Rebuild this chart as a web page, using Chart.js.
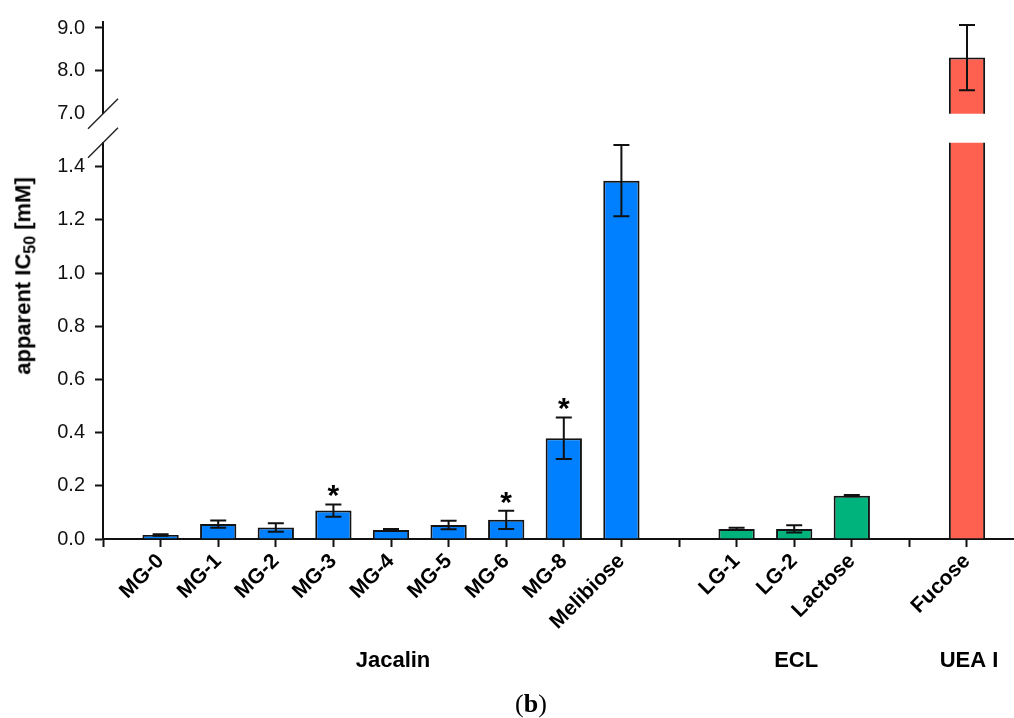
<!DOCTYPE html>
<html><head><meta charset="utf-8">
<script src="https://cdn.jsdelivr.net/npm/chart.js@4.4.0/dist/chart.umd.min.js"></script>
<style>
html,body{margin:0;padding:0;background:#fff;overflow:hidden;width:1014px;height:718px;}
#wrap{position:relative;width:1014px;height:718px;overflow:hidden;background:#fff;}
canvas{position:absolute;left:0;top:0;}
#ytitle{position:absolute;left:25px;top:276px;transform:translate(-50%,-50%) rotate(-90deg);font:bold 22px "Liberation Sans",Arial,sans-serif;white-space:nowrap;color:#000;}
#ytitle sub{font-size:16px;}
#cap{position:absolute;left:531px;top:704px;transform:translate(-50%,-50%);font:26px "Liberation Serif","DejaVu Serif",serif;color:#000;white-space:nowrap;}
</style></head>
<body>
<div id="wrap">
<canvas id="low" width="1065" height="718"></canvas>
<canvas id="high" width="1065" height="718"></canvas>
<div id="ytitle">apparent IC<sub>50</sub> [mM]</div>
<div id="cap">(<b>b</b>)</div>
</div>
<script>
const categories = ['', 'MG-0','MG-1','MG-2','MG-3','MG-4','MG-5','MG-6','MG-8','Melibiose','', 'LG-1','LG-2','Lactose','', 'Fucose',''];
const jacalinValues = [null,0.015,0.056,0.043,0.107,0.034,0.053,0.072,0.379,1.347,null,null,null,null,null,null,null];
const jacalinErrors = [null,0.003,0.014,0.016,0.023,0.004,0.016,0.034,0.078,0.134,null,null,null,null,null,null,null];
const eclValues = [null,null,null,null,null,null,null,null,null,null,null,0.038,0.038,0.163,null,null,null];
const eclErrors = [null,null,null,null,null,null,null,null,null,null,null,0.004,0.014,0.002,null,null,null];
const ueaValues = [null,null,null,null,null,null,null,null,null,null,null,null,null,null,null,8.31,null];
const ueaErrors = [null,null,null,null,null,null,null,null,null,null,null,null,null,null,null,0.76,null];
const significant = [false,false,false,false,true,false,false,true,true,false,false,false,false,false,false,false,false];
const groupNames = ['Jacalin','ECL','UEA I'];
const groupCenters = ['MG-4','LG-2','Fucose'];
const lowTicks = [0,0.2,0.4,0.6,0.8,1.0,1.2,1.4];
const highTicks = [7,8,9];

const FONT = '"Liberation Sans", Arial, sans-serif';
const BLUE = '#0080ff', GREEN = '#00b37c', RED = '#ff6150', EDGE = '#141414';

function makeDatasets() {
  const common = {borderColor: EDGE, borderWidth: 2, borderSkipped: 'start', grouped: false,
    categoryPercentage: 0.63, barPercentage: 1.0, clip: 0};
  return [
    Object.assign({label: 'Jacalin', data: jacalinValues, errors: jacalinErrors, backgroundColor: BLUE}, common),
    Object.assign({label: 'ECL', data: eclValues, errors: eclErrors, backgroundColor: GREEN}, common),
    Object.assign({label: 'UEA I', data: ueaValues, errors: ueaErrors, backgroundColor: RED}, common)
  ];
}

const errorBarPlugin = {
  id: 'errorBars',
  afterDatasetsDraw(chart) {
    const ctx = chart.ctx, a = chart.chartArea, y = chart.scales.y;
    ctx.save();
    ctx.beginPath(); ctx.rect(a.left, a.top - 1, a.right - a.left, a.bottom - a.top + 1); ctx.clip();
    ctx.strokeStyle = '#111'; ctx.lineWidth = 2;
    chart.data.datasets.forEach((ds, di) => {
      const meta = chart.getDatasetMeta(di);
      ds.data.forEach((v, i) => {
        const e = ds.errors[i];
        if (v == null || e == null) return;
        const x = meta.data[i].x;
        const yt = y.getPixelForValue(v + e), yb = y.getPixelForValue(v - e);
        ctx.beginPath();
        ctx.moveTo(x, yt); ctx.lineTo(x, yb);
        ctx.moveTo(x - 8, yt); ctx.lineTo(x + 8, yt);
        ctx.moveTo(x - 8, yb); ctx.lineTo(x + 8, yb);
        ctx.stroke();
      });
    });
    ctx.restore();
  }
};

const starPlugin = {
  id: 'stars',
  afterDatasetsDraw(chart) {
    const ctx = chart.ctx, y = chart.scales.y, meta = chart.getDatasetMeta(0);
    ctx.save();
    ctx.fillStyle = '#000'; ctx.font = 'bold 30px ' + FONT;
    ctx.textAlign = 'center'; ctx.textBaseline = 'alphabetic';
    significant.forEach((s, i) => {
      if (!s) return;
      const x = meta.data[i].x;
      const yy = y.getPixelForValue(jacalinValues[i] + jacalinErrors[i]) + 1;
      ctx.fillText('*', x, yy);
    });
    ctx.restore();
  }
};

const groupPlugin = {
  id: 'groups',
  afterDraw(chart) {
    const ctx = chart.ctx, x = chart.scales.x;
    ctx.save();
    ctx.fillStyle = '#000'; ctx.font = 'bold 22px ' + FONT;
    ctx.textAlign = 'center'; ctx.textBaseline = 'alphabetic';
    groupNames.forEach((g, k) => {
      const px = x.getPixelForValue(categories.indexOf(groupCenters[k]));
      ctx.fillText(g, px + 2, chart.chartArea.bottom + 128);
    });
    ctx.restore();
  }
};

function breakPlugin(edge) {
  return {
    id: 'axisBreak',
    afterDraw(chart) {
      const ctx = chart.ctx, a = chart.chartArea;
      const cx = a.left, cy = edge === 'top' ? a.top : a.bottom;
      ctx.save();
      ctx.strokeStyle = '#222'; ctx.lineWidth = 1.4;
      ctx.beginPath(); ctx.moveTo(cx - 15, cy + 15); ctx.lineTo(cx + 15, cy - 15); ctx.stroke();
      ctx.restore();
    }
  };
}

function yAxis(min, max, tickList, hideTickAt) {
  return {
    type: 'linear', min: min, max: max,
    afterFit: s => { s.width = 103; },
    afterBuildTicks: s => { s.ticks = tickList.map(v => ({value: v})); },
    border: {display: true, color: '#111', width: 2},
    grid: {display: true, drawOnChartArea: false, drawTicks: true, tickLength: 8, tickWidth: 2,
      tickColor: c => (c.tick && c.tick.value === hideTickAt) ? 'rgba(0,0,0,0)' : '#111'},
    ticks: {color: '#111', padding: 10, font: {family: FONT, size: 20}, callback: v => Number(v).toFixed(1)}
  };
}

new Chart(document.getElementById('low'), {
  type: 'bar',
  data: {labels: categories, datasets: makeDatasets()},
  options: {
    responsive: false, animation: false, devicePixelRatio: 1,
    layout: {padding: {left: 0, right: 40.4, top: 142.7, bottom: 0}},
    plugins: {legend: {display: false}, tooltip: {enabled: false}},
    scales: {
      x: {
        type: 'category', offset: false,
        afterFit: s => { s.height = 179; },
        border: {display: true, color: '#111', width: 2},
        grid: {display: true, drawOnChartArea: false, drawTicks: true, tickLength: 8, tickWidth: 2, tickColor: '#111', offset: false},
        ticks: {autoSkip: false, minRotation: 45, maxRotation: 45, padding: 2, color: '#000',
          font: {family: FONT, size: 21, weight: 'bold'}}
      },
      y: yAxis(0, 1.49, lowTicks, null)
    }
  },
  plugins: [errorBarPlugin, starPlugin, groupPlugin, breakPlugin('top')]
});

new Chart(document.getElementById('high'), {
  type: 'bar',
  data: {labels: categories, datasets: makeDatasets()},
  options: {
    responsive: false, animation: false, devicePixelRatio: 1,
    layout: {padding: {left: 0, right: 40.4, top: 18, bottom: 604.3}},
    plugins: {legend: {display: false}, tooltip: {enabled: false}},
    scales: {
      x: {type: 'category', offset: false, display: false},
      y: yAxis(7, 9.14, highTicks, 7)
    }
  },
  plugins: [errorBarPlugin, breakPlugin('bottom')]
});
</script>
</body></html>
